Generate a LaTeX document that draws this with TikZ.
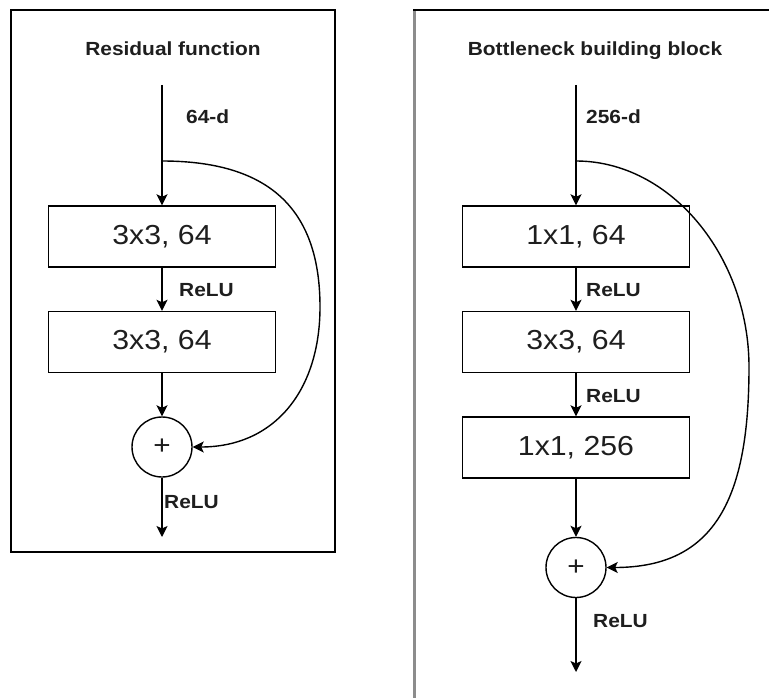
\documentclass[tikz,border=0pt]{standalone}
\usepackage{fontspec}
\setmainfont{Liberation Sans}[FakeStretch=1.1]
\usetikzlibrary{arrows.meta}
\definecolor{ink}{HTML}{1E1E1E}
\definecolor{edge}{HTML}{8C8C8C}
\tikzset{
  arr/.style={-{Stealth[length=11pt,width=11pt,inset=2.5pt]}, line width=1.4pt, draw=black},
  layerbox/.style={draw=black, line width=1.4pt, minimum width=227pt, minimum height=61pt,
    inner sep=0pt, text=ink, font=\fontsize{27.5}{30}\selectfont},
  sumnode/.style={draw=black, line width=1.4pt, circle, minimum size=60pt, inner sep=0pt,
    text=ink, font=\fontsize{27}{28}\selectfont},
  lbl/.style={text=ink, font=\bfseries\fontsize{19}{22}\selectfont, inner sep=0pt},
  ttl/.style={text=ink, font=\bfseries\fontsize{19}{22}\selectfont, inner sep=0pt, anchor=base},
  frame/.style={draw=black, line width=1.6pt}
}
\begin{document}
\begin{tikzpicture}[x=1pt, y=-1pt]
\useasboundingbox (0,0) rectangle (769,698);

% ---- left panel: residual function ----
\draw[frame] (11,10) rectangle (335,552);
\node[ttl] (t1) at (173,56) {Residual function};
\coordinate (in1) at (162,85);
\coordinate (br1) at (162,161);
\coordinate (ap1) at (320,307);
\coordinate (out1) at (162,537);
\node[layerbox] (a1) at (162,236.5) {3x3, 64};
\node[layerbox] (a2) at (162,342) {3x3, 64};
\node[sumnode] (s1) at (162,447) {+};
\node[lbl, anchor=west] (d1) at (186,117) {64-d};
\node[lbl, anchor=west] (r1) at (179,290) {ReLU};
\node[lbl, anchor=west] (r2) at (164,502) {ReLU};
\draw[arr] (in1) -- (a1.north);
\draw[arr] (a1.south) -- (a2.north);
\draw[arr] (a2.south) -- (s1.north);
\draw[arr] (s1.south) -- (out1);
\draw[arr] (br1) .. controls (267,161) and (320,207) .. (ap1)
  .. controls (320,390) and (275,447) .. (s1.east);

% ---- right panel: bottleneck building block ----
\draw[edge, line width=3pt] (414,700) -- (414,10);
\draw[frame] (413,10) -- (772,10);
\node[ttl] (t2) at (595,56) {Bottleneck building block};
\coordinate (in2) at (576,85);
\coordinate (br2) at (576,161);
\coordinate (ap2) at (749,367);
\coordinate (out2) at (576,672);
\node[layerbox] (b1) at (576,236.5) {1x1, 64};
\node[layerbox] (b2) at (576,342) {3x3, 64};
\node[layerbox] (b3) at (576,447.5) {1x1, 256};
\node[sumnode] (s2) at (576,567.5) {+};
\node[lbl, anchor=west] (d2) at (586,117) {256-d};
\node[lbl, anchor=west] (r3) at (586,290) {ReLU};
\node[lbl, anchor=west] (r4) at (586,396) {ReLU};
\node[lbl, anchor=west] (r5) at (593,621) {ReLU};
\draw[arr] (in2) -- (b1.north);
\draw[arr] (b1.south) -- (b2.north);
\draw[arr] (b2.south) -- (b3.north);
\draw[arr] (b3.south) -- (s2.north);
\draw[arr] (s2.south) -- (out2);
\draw[arr] (br2) .. controls (671,161) and (749,257) .. (ap2)
  .. controls (749,497) and (716,567.5) .. (s2.east);
\end{tikzpicture}
\end{document}
